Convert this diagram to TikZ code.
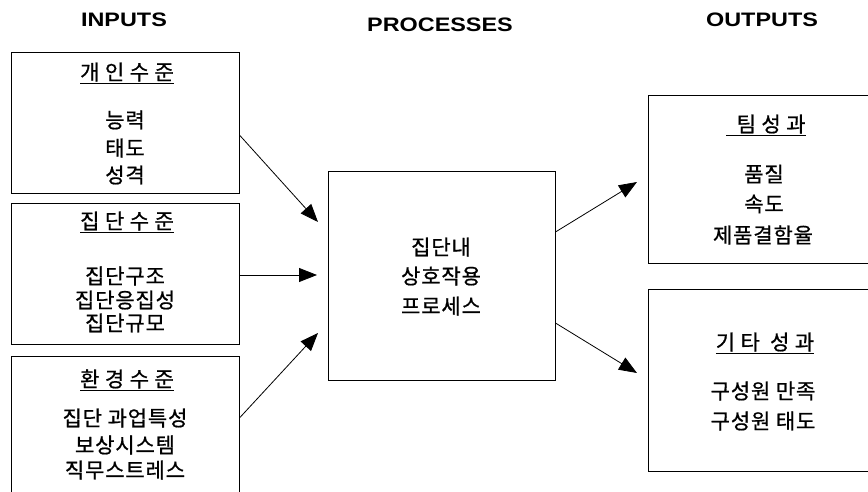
\documentclass[tikz,border=0pt]{standalone}
\usepackage{fontspec}
\usetikzlibrary{arrows.meta}
\newfontfamily\hdrfont{Liberation Sans}[FakeStretch=1.2]
\newfontfamily\krbody{Noto Sans CJK KR}[LetterSpace=4,FakeBold=0.8]
\newfontfamily\krtitle{Noto Sans CJK KR}[LetterSpace=26,FakeBold=0.8]
\tikzset{
  box/.style={draw=black,line width=0.9pt,minimum width=#1,inner sep=0pt},
  hdr/.style={font=\hdrfont\bfseries\fontsize{19.5}{22}\selectfont,inner sep=0pt},
  body/.style={font=\krbody\fontsize{21}{24}\selectfont,inner sep=0pt},
  ttl/.style={font=\krtitle\fontsize{21}{24}\selectfont,inner sep=0pt},
  arr/.style={line width=0.8pt,-{Triangle[length=18pt,width=14pt]}}
}
\begin{document}
\begin{tikzpicture}[x=1pt,y=-1pt]
\useasboundingbox (0,0) rectangle (868,492);
\clip (0,0) rectangle (868,492);
% headers
\node[hdr] (hin) at (124,20) {INPUTS};
\node[hdr] (hpr) at (440,25) {PROCESSES};
\node[hdr] (hout) at (762,20) {OUTPUTS};
% boxes
\node[box=228pt,minimum height=141pt] (in1) at (125,122.5) {};
\node[box=228pt,minimum height=141pt] (in2) at (125,273.5) {};
\node[box=228pt,minimum height=150pt] (in3) at (125,431) {};
\node[box=227pt,minimum height=209pt] (proc) at (441.5,275.5) {};
\node[box=227pt,minimum height=168pt] (out1) at (761.5,179) {};
\node[box=227pt,minimum height=182pt] (out2) at (761.5,380) {};
% texts in1
\node[ttl] (t1) at (127,73) {\underline{개인수준}};
\node[body] (t1a) at (125,120) {능력};
\node[body] (t1b) at (125,148) {태도};
\node[body] (t1c) at (125,175) {성격};
% in2
\node[ttl] (t2) at (127,222) {\underline{집단수준}};
\node[body] (t2a) at (125,276) {집단구조};
\node[body] (t2b) at (125,300) {집단응집성};
\node[body] (t2c) at (125,323) {집단규모};
% in3
\node[ttl] (t3) at (127,380) {\underline{환경수준}};
\node[body] (t3a) at (125,418) {집단 과업특성};
\node[body] (t3b) at (125,445) {보상시스템};
\node[body] (t3c) at (125,470) {직무스트레스};
% process
\node[body] (p1) at (441,247) {집단내};
\node[body] (p2) at (441,276) {상호작용};
\node[body] (p3) at (441,306) {프로세스};
% out1
\node[ttl] (o1) at (766,125) {\underline{\ 팀성과}};
\node[body] (o1a) at (764,174) {품질};
\node[body] (o1b) at (764,204) {속도};
\node[body] (o1c) at (763,235) {제품결함율};
% out2
\node[ttl] (o2) at (765,343) {\underline{기타 성과}};
\node[body] (o2a) at (763,391) {구성원 만족};
\node[body] (o2b) at (763,421) {구성원 태도};
% arrow end points
\coordinate (e1) at (318,222);
\coordinate (e2) at (317,275);
\coordinate (e3) at (318,333);
\coordinate (e4) at (637,182);
\coordinate (e5) at (637,373);
\draw[arr] ([yshift=-12.5pt]in1.east) -- (e1);
\draw[arr] ([yshift=-1.5pt]in2.east) -- (e2);
\draw[arr] ([yshift=13pt]in3.east) -- (e3);
\draw[arr] ([yshift=43.5pt]proc.east) -- (e4);
\draw[arr] ([yshift=-47.5pt]proc.east) -- (e5);
\end{tikzpicture}
\end{document}
